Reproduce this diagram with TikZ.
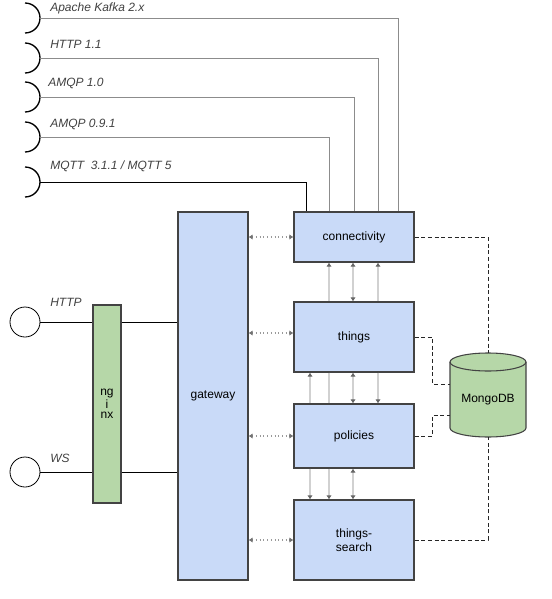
\documentclass[tikz,border=0pt]{standalone}
\usepackage{fontspec}
\setmainfont{Liberation Sans}
\usepackage{tikz}
\usetikzlibrary{arrows.meta, positioning, calc}

\definecolor{svcblue}{HTML}{C9DAF8}
\definecolor{svcgreen}{HTML}{B6D7A8}
\definecolor{boxline}{HTML}{434343}

\begin{document}
\begin{tikzpicture}[x=0.75pt, y=-0.75pt,
  font=\fontsize{9}{10.5}\selectfont,
  vt/.tip={Latex[length=3pt, width=4pt, color=black!60]},
  gt/.tip={Latex[length=3pt, width=4pt, color=black!55]},
  svc/.style={draw=boxline, fill=svcblue, line width=0.8pt,
    minimum width=90pt, align=center, inner sep=0pt},
  proxy/.style={draw=boxline, fill=svcgreen, line width=0.8pt,
    minimum width=21pt, minimum height=148.5pt, align=center, inner sep=0pt,
    font=\fontsize{9}{7.5}\selectfont},
  portlabel/.style={anchor=base west, inner sep=0pt, text=black!75,
    font=\fontsize{9}{10.5}\selectfont\itshape},
  portarc/.style={draw=black, line width=1pt},
  portline/.style={draw=black!45, line width=0.7pt},
  entry/.style={draw=black, line width=0.6pt},
  gwlink/.style={draw=black!40, dotted, line width=0.8pt, gt-gt},
  vlink/.style={draw=black!18, line width=1.2pt},
  dbline/.style={draw=black!85, line width=0.7pt, dash pattern=on 3pt off 2pt}
]
  \useasboundingbox (0,0) rectangle (551,599);

  % Services
  \node[svc, minimum height=37.5pt] (connectivity) at (354,237) {connectivity};
  \node[svc, minimum height=52.5pt, below=29.2pt of connectivity] (things) {things};
  \node[svc, minimum height=48pt, below=23.2pt of things] (policies) {policies};
  \node[svc, minimum height=60pt, below=23.2pt of policies] (search) {things-\\search};

  % Gateway and nginx
  \node[svc, minimum width=52.5pt, minimum height=276pt] (gateway) at (213,396) {gateway};
  \node[proxy] (nginx) at (107,404) {ng\\i\\nx};

  % MongoDB cylinder
  \node[minimum width=57pt, minimum height=63pt, inner sep=0pt] (mongo) at (488,395) {};
  \filldraw[draw=boxline, fill=svcgreen, line width=0.8pt]
    (450,362) -- (450,428) arc[start angle=180, end angle=360, x radius=28.5pt, y radius=6.75pt]
    -- (526,362) arc[start angle=0, end angle=180, x radius=28.5pt, y radius=6.75pt] -- cycle;
  \draw[draw=boxline, line width=0.8pt]
    (450,362) arc[start angle=180, end angle=360, x radius=28.5pt, y radius=6.75pt];
  \node (mongolbl) at (488,400) {MongoDB};

  % Protocol ports of connectivity
  \coordinate (kafka) at (40,18);
  \coordinate (http11) at (40,58);
  \coordinate (amqp10) at (40,97);
  \coordinate (amqp091) at (40,137);
  \coordinate (mqtt) at (40,182);
  \draw[portarc] (kafka) ++(-15,-15) arc[start angle=90, end angle=-90, radius=11.25pt];
  \draw[portarc] (http11) ++(-15,-15) arc[start angle=90, end angle=-90, radius=11.25pt];
  \draw[portarc] (amqp10) ++(-15,-15) arc[start angle=90, end angle=-90, radius=11.25pt];
  \draw[portarc] (amqp091) ++(-15,-15) arc[start angle=90, end angle=-90, radius=11.25pt];
  \draw[portarc] (mqtt) ++(-15,-15) arc[start angle=90, end angle=-90, radius=11.25pt];
  \node[portlabel] (kafkalbl) at (50,12) {Apache Kafka 2.x};
  \node[portlabel] (http11lbl) at (50,49) {HTTP 1.1};
  \node[portlabel] (amqp10lbl) at (48,87) {AMQP 1.0};
  \node[portlabel] (amqp091lbl) at (50,128) {AMQP 0.9.1};
  \node[portlabel] (mqttlbl) at (50,170) {MQTT\ \ 3.1.1 / MQTT 5};
  \draw[portline] (kafka) -| ($(connectivity.north)+(44,0)$);
  \draw[portline] (http11) -| ($(connectivity.north)+(24,0)$);
  \draw[portline] (amqp10) -| ($(connectivity.north)+(0,0)$);
  \draw[portline] (amqp091) -| ($(connectivity.north)+(-25,0)$);
  \draw[entry] (mqtt) -| ($(connectivity.north)+(-48,0)$);

  % HTTP and WS entry points
  \node[draw, circle, minimum size=22.5pt, inner sep=0pt, line width=0.6pt] (httpin) at (25,322) {};
  \node[draw, circle, minimum size=22.5pt, inner sep=0pt, line width=0.6pt] (wsin) at (25,472) {};
  \node[portlabel] (httplbl) at (50,306) {HTTP};
  \node[portlabel] (wslbl) at (50,462) {WS};
  \draw[entry] (httpin.east) -- (httpin -| nginx.west);
  \draw[entry] (nginx.east |- httpin) -- (gateway.west |- httpin);
  \draw[entry] (wsin.east) -- (wsin -| nginx.west);
  \draw[entry] (nginx.east |- wsin) -- (gateway.west |- wsin);

  % Gateway links
  \draw[gwlink] (gateway.east |- connectivity.west) -- (connectivity.west);
  \draw[gwlink] ($(gateway.east |- things.west)+(0,-4)$) -- ($(things.west)+(0,-4)$);
  \draw[gwlink] (gateway.east |- policies.west) -- (policies.west);
  \draw[gwlink] (gateway.east |- search.west) -- (search.west);

  % Links between services
  \draw[vlink, vt-] ($(connectivity.south)+(-25,0)$) -- ($(things.north)+(-25,0)$);
  \draw[vlink, vt-vt] ($(connectivity.south)+(-1,0)$) -- ($(things.north)+(-1,0)$);
  \draw[vlink, vt-] ($(connectivity.south)+(24,0)$) -- ($(things.north)+(24,0)$);
  \draw[vlink, vt-] ($(things.south)+(-44,0)$) -- ($(policies.north)+(-44,0)$);
  \draw[vlink] ($(things.south)+(-25,0)$) -- ($(policies.north)+(-25,0)$);
  \draw[vlink, vt-vt] ($(things.south)+(-1,0)$) -- ($(policies.north)+(-1,0)$);
  \draw[vlink, -vt] ($(things.south)+(24,0)$) -- ($(policies.north)+(24,0)$);
  \draw[vlink, -vt] ($(policies.south)+(-44,0)$) -- ($(search.north)+(-44,0)$);
  \draw[vlink, -vt] ($(policies.south)+(-25,0)$) -- ($(search.north)+(-25,0)$);
  \draw[vlink, vt-vt] ($(policies.south)+(-1,0)$) -- ($(search.north)+(-1,0)$);

  % Database links
  \draw[dbline] (connectivity.east) -| (mongo.north);
  \draw[dbline] (things.east) -- ++(18,0) |- ($(mongo.west)+(0,-11)$);
  \draw[dbline] (policies.east) -- ++(18,0) |- ($(mongo.west)+(0,20)$);
  \draw[dbline] (search.east) -| (mongo.south);
\end{tikzpicture}
\end{document}
